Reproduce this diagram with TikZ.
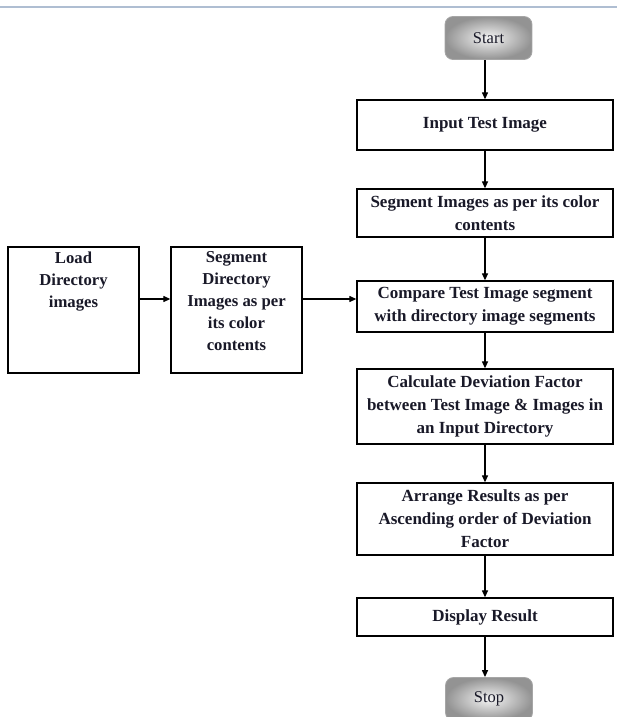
\documentclass[tikz,border=0pt]{standalone}
\usepackage{fontspec}
\setmainfont{Liberation Serif}
\usetikzlibrary{arrows.meta}
\definecolor{topline}{RGB}{175,190,210}
\definecolor{txt}{RGB}{25,25,40}
\begin{document}
\begin{tikzpicture}[x=1pt,y=-1pt,
  box/.style={draw=black, line width=1.3pt, fill=white, minimum width=256pt,
    align=center, text=txt, font=\bfseries\fontsize{17}{23}\selectfont, inner sep=2pt},
  lbox/.style={draw=black, line width=1.3pt, fill=white, minimum width=131pt, minimum height=126pt},
  ltext/.style={align=center, text=txt, font=\bfseries\fontsize{16.7}{22}\selectfont, inner sep=2pt},
  term/.style={draw=gray!70, line width=0.8pt, rounded corners=8pt, minimum width=87pt,
    minimum height=43pt, shading=radial, inner color=gray!8, outer color=gray!85,
    text=txt, font=\fontsize{16.5}{20}\selectfont},
  arr/.style={-{Triangle[length=7pt,width=6pt]}, line width=1.2pt, draw=black}]
\clip (0,0) rectangle (617,717);
\fill[white] (0,0) rectangle (617,717);
\draw[topline, line width=1.2pt] (0,7) -- (617,7);

\node[term] (start) at (488.5,38) {Start};
\node[box, minimum height=50pt] (input) at (485,125) {Input Test Image};
\node[box, minimum height=48pt] (segimg) at (485,213) {Segment Images as per its color\\contents};
\node[box, minimum height=51pt] (compare) at (485,306.5) {Compare Test Image segment\\with directory image segments};
\node[box, minimum height=75pt] (calc) at (485,406.5) {Calculate Deviation Factor\\between Test Image \& Images in\\an Input Directory};
\node[box, minimum height=72pt] (arrange) at (485,519) {Arrange Results as per\\Ascending order of Deviation\\Factor};
\node[box, minimum height=38pt] (display) at (485,617) {Display Result};
\node[term] (stop) at (489,699) {Stop};

\node[lbox] (load) at (73.5,310) {};
\node[ltext, anchor=north] (loadtxt) at ([yshift=-3pt]load.north) {Load\\Directory\\images};
\node[lbox] (segdir) at (236.5,310) {};
\node[ltext, anchor=north] (segdirtxt) at ([yshift=-3pt]segdir.north) {Segment\\Directory\\Images as per\\its color\\contents};

\coordinate (lvl) at (0,299);
\draw[arr] (start.south -| input) -- (input);
\draw[arr] (input) -- (segimg);
\draw[arr] (segimg) -- (compare);
\draw[arr] (compare) -- (calc);
\draw[arr] (calc) -- (arrange);
\draw[arr] (arrange) -- (display);
\draw[arr] (display.south) -- (stop.north -| display);
\draw[arr] (load.east |- lvl) -- (segdir.west |- lvl);
\draw[arr] (segdir.east |- lvl) -- (compare.west |- lvl);
\end{tikzpicture}
\end{document}
